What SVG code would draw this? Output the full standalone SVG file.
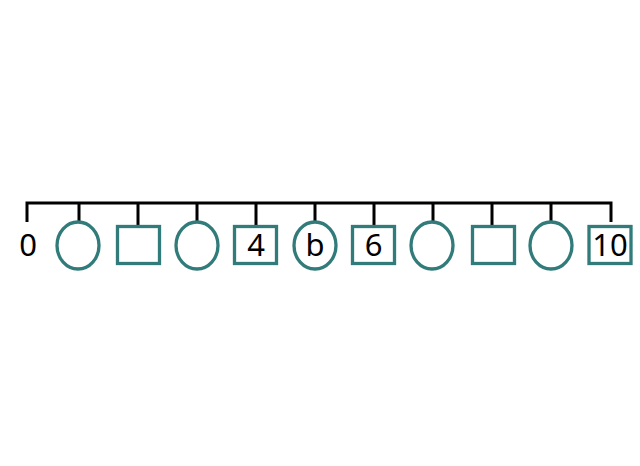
<svg xmlns="http://www.w3.org/2000/svg" width="640" height="466" viewBox="0 0 640 466">
<style>
.c{fill:none;stroke:#317b7b;stroke-width:3.3}
.w{stroke:#000;stroke-width:3;fill:none}
text{font-family:"Noto Sans","DejaVu Sans",sans-serif;font-size:31px;fill:#000;text-anchor:middle}
</style>
<rect width="640" height="466" fill="#fff"/>
<g id="connectors" class="w">
<path d="M27,222V203H611V222"/>
<path d="M79,203V222M138,203V225M197,203V222M256,203V225M315,203V222M374,203V225M433,203V222M492,203V225M551,203V222"/>
</g>
<g id="n0"><text x="28" y="256">0</text></g>
<g id="n1"><ellipse class="c" cx="78" cy="245.5" rx="21" ry="23.5"/></g>
<g id="n2"><rect class="c" x="117.5" y="226.5" width="42" height="37"/></g>
<g id="n3"><ellipse class="c" cx="197" cy="245.5" rx="21" ry="23.5"/></g>
<g id="n4"><rect class="c" x="234.5" y="226.5" width="42" height="37"/><text x="256" y="256">4</text></g>
<g id="n5"><ellipse class="c" cx="315" cy="245.5" rx="21" ry="23.5"/><text x="315" y="256">b</text></g>
<g id="n6"><rect class="c" x="352.5" y="226.5" width="42" height="37"/><text x="373.5" y="256">6</text></g>
<g id="n7"><ellipse class="c" cx="432" cy="245.5" rx="21" ry="23.5"/></g>
<g id="n8"><rect class="c" x="472.5" y="226.5" width="42" height="37"/></g>
<g id="n9"><ellipse class="c" cx="551" cy="245.5" rx="21" ry="23.5"/></g>
<g id="n10"><rect class="c" x="589" y="226.5" width="42" height="37"/><text x="610" y="256">10</text></g>
</svg>
